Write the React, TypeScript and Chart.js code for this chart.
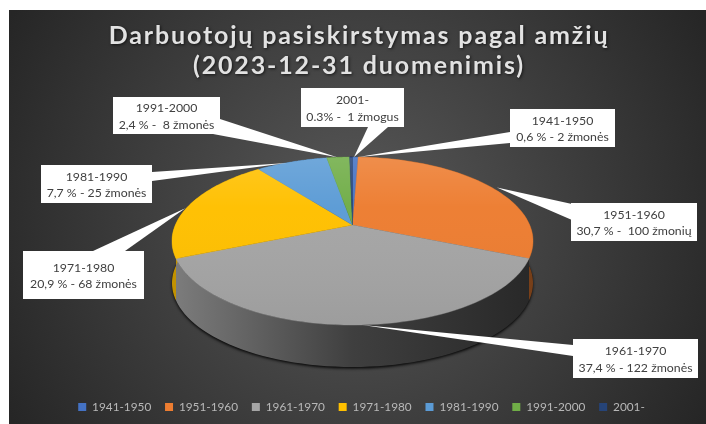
import React, { useEffect, useRef } from "react";
import { Chart, registerables } from "chart.js";

Chart.register(...registerables);

const categories = ["1941-1950", "1951-1960", "1961-1970", "1971-1980", "1981-1990", "1991-2000", "2001-"];
const people = [2, 100, 122, 68, 25, 8, 1];
const colors = ["#4472c4", "#ed7d31", "#a5a5a5", "#ffc000", "#5b9bd5", "#70ad47", "#264478"];
const detailLabels = [
  "0,6 % - 2 žmonės",
  "30,7 % -  100 žmonių",
  "37,4 % - 122 žmonės",
  "20,9 % - 68 žmonės",
  "7,7 % - 25 žmonės",
  "2,4 % -  8 žmonės",
  "0.3% -  1 žmogus",
];
const titleLines = ["Darbuotojų pasiskirstymas pagal amžių", "(2023-12-31 duomenimis)"];

// Callout geometry (box: x0, y0, x1, y1; wedge base: x, y, x, y)
const calloutBoxes = [
  [510, 109, 615, 147],
  [571, 203, 697, 241],
  [573, 339, 698, 378],
  [23, 251, 144, 299],
  [41, 165, 152, 203],
  [113, 97, 220, 134],
  [301, 88, 404, 127],
];
const wedgeBases = [
  [510, 132, 510, 143],
  [572, 204, 572, 220],
  [573, 345, 573, 356],
  [93, 251, 125, 251],
  [152, 172, 152, 181],
  [220, 119, 213, 134],
  [368, 127, 388, 127],
];
const tipNudges = [
  [3, 0],
  [9, 2],
  [10, 0],
  [-4, 3],
  [-5, 1],
  [-1, 0],
  [3, 0],
];

const CX = 352.5;
const CY = 241;
const RX = 180.5;
const RY = 84;
const DEPTH = 42;
const APEX_Y = 225;
const PERSP = (APEX_Y - CY) / RY;
const DX = RX * Math.sqrt(1 - PERSP * PERSP);

function project(theta: number, drop = 0): [number, number] {
  const u = Math.sin(theta);
  const v = -Math.cos(theta);
  const w = 1 + PERSP * v;
  return [CX + (DX * u) / w, CY + drop + (RY * v + (APEX_Y - CY)) / w];
}

function hexShade(hex: string, f: number) {
  const n = parseInt(hex.slice(1), 16);
  const r = Math.round(((n >> 16) & 255) * f);
  const g = Math.round(((n >> 8) & 255) * f);
  const b = Math.round((n & 255) * f);
  return `rgb(${r},${g},${b})`;
}

const pie3d = {
  id: "pie3d",
  beforeDraw(chart: any) {
    const { ctx } = chart;
    const g = ctx.createRadialGradient(357, 217, 20, 357, 217, 400);
    g.addColorStop(0, "#565656");
    g.addColorStop(1, "#262626");
    ctx.save();
    ctx.fillStyle = "#ffffff";
    ctx.fillRect(0, 0, chart.width, chart.height);
    ctx.fillStyle = g;
    ctx.fillRect(9, 10, chart.width - 9, chart.height - 10);
    ctx.restore();
    const tb = chart.titleBlock;
    if (tb && !tb.__wrapped) {
      tb.__wrapped = true;
      const orig = tb.draw.bind(tb);
      tb.draw = () => {
        ctx.save();
        ctx.letterSpacing = "1.85px";
        ctx.translate(1, 0);
        ctx.shadowColor = "rgba(0,0,0,0.65)";
        ctx.shadowBlur = 3;
        ctx.shadowOffsetX = 1;
        ctx.shadowOffsetY = 1;
        orig();
        ctx.restore();
      };
    }
    const lg = chart.legend;
    if (lg && !lg.__wrapped) {
      lg.__wrapped = true;
      const origL = lg.draw.bind(lg);
      lg.draw = () => {
        ctx.save();
        ctx.translate(3.5, 0);
        origL();
        ctx.restore();
      };
    }
  },
  beforeDatasetDraw(chart: any, args: any) {
    const { ctx } = chart;
    const arcs = args.meta.data;
    const slice = (a: any, steps = 60) => {
      const s = a.startAngle + Math.PI / 2;
      const e = a.endAngle + Math.PI / 2;
      const pts: number[] = [];
      for (let i = 0; i <= steps; i++) pts.push(s + ((e - s) * i) / steps);
      return pts;
    };
    ctx.save();
    // soft shadow under the solid
    ctx.save();
    ctx.shadowColor = "rgba(0,0,0,0.9)";
    ctx.shadowBlur = 3;
    ctx.shadowOffsetY = 1.5;
    ctx.fillStyle = "#111";
    ctx.beginPath();
    ctx.ellipse(CX, CY + DEPTH, RX, RY, 0, 0, Math.PI * 2);
    ctx.fill();
    ctx.restore();
    // walls
    arcs.forEach((a: any, i: number) => {
      const ts = slice(a);
      const wg = ctx.createLinearGradient(CX - RX, 0, CX + RX, 0);
      const base = colors[i];
      const end = i === 2 ? 0.24 : 0.5;
      wg.addColorStop(0, hexShade(base, 0.76));
      wg.addColorStop(0.5, hexShade(base, i === 2 ? 0.38 : 0.7));
      wg.addColorStop(1, hexShade(base, end));
      ctx.fillStyle = wg;
      ctx.beginPath();
      ts.forEach((t: number, k: number) => {
        const [x, y] = project(t);
        if (k) ctx.lineTo(x, y);
        else ctx.moveTo(x, y);
      });
      ts.slice()
        .reverse()
        .forEach((t: number) => {
          const [x, y] = project(t, DEPTH);
          ctx.lineTo(x, y);
        });
      ctx.closePath();
      ctx.fill();
    });
    // top faces
    arcs.forEach((a: any, i: number) => {
      const ts = slice(a);
      const path = () => {
        ctx.beginPath();
        ctx.moveTo(CX, APEX_Y);
        ts.forEach((t: number) => {
          const [x, y] = project(t);
          ctx.lineTo(x, y);
        });
        ctx.closePath();
      };
      path();
      ctx.fillStyle = colors[i];
      ctx.fill();
      ctx.strokeStyle = colors[i];
      ctx.lineWidth = 0.4;
      ctx.stroke();
      const ov = ctx.createLinearGradient(0, CY - RY, 0, CY + RY);
      ov.addColorStop(0, "rgba(255,255,255,0.13)");
      ov.addColorStop(0.3, "rgba(255,255,255,0.02)");
      ov.addColorStop(1, "rgba(0,0,0,0.05)");
      path();
      ctx.fillStyle = ov;
      ctx.fill();
    });
    // callouts
    ctx.font = "12.3px Lato";
    ctx.textAlign = "center";
    ctx.textBaseline = "middle";
    arcs.forEach((a: any, i: number) => {
      const mid = (a.startAngle + a.endAngle) / 2 + Math.PI / 2;
      const [tx, ty] = project(mid);
      const b = calloutBoxes[i];
      const w = wedgeBases[i];
      const n = tipNudges[i];
      ctx.fillStyle = "#ffffff";
      ctx.beginPath();
      ctx.moveTo(w[0], w[1]);
      ctx.lineTo(tx + n[0], ty + n[1]);
      ctx.lineTo(w[2], w[3]);
      ctx.closePath();
      ctx.fill();
      ctx.fillRect(b[0], b[1], b[2] - b[0], b[3] - b[1]);
      ctx.fillStyle = "#404040";
      const cx = (b[0] + b[2]) / 2;
      const cy = (b[1] + b[3]) / 2 + 1;
      ctx.fillText(categories[i], cx, cy - 8.4);
      ctx.fillText(detailLabels[i], cx, cy + 8.4);
    });
    ctx.restore();
    return false;
  },
};

export default function App() {
  const ref = useRef<HTMLCanvasElement>(null);
  useEffect(() => {
    const chart = new Chart(ref.current as HTMLCanvasElement, {
      type: "pie",
      data: {
        labels: categories,
        datasets: [{ data: people, backgroundColor: colors, borderWidth: 0 }],
      },
      plugins: [pie3d],
      options: {
        responsive: false,
        animation: false,
        layout: { padding: { left: 10, right: 0, top: 21, bottom: 1 } },
        plugins: {
          tooltip: { enabled: false },
          title: {
            display: true,
            text: titleLines,
            color: "#e2e2e2",
            font: { family: "Lato", size: 25, weight: "bold", lineHeight: 1.2 },
            padding: { top: 0, bottom: 0 },
          },
          legend: {
            position: "bottom",
            labels: {
              boxWidth: 8,
              boxHeight: 8,
              padding: 13.8,
              color: "#b8b8b8",
              font: { family: "Lato", size: 11.8 },
            },
          },
        },
      },
    } as any);
    chart.draw();
    return () => chart.destroy();
  }, []);
  return (
    <canvas
      ref={ref}
      width={706}
      height={424}
      style={{ position: "fixed", left: 0, top: 0, width: 706, height: 424, filter: "blur(0.45px)" }}
    />
  );
}
